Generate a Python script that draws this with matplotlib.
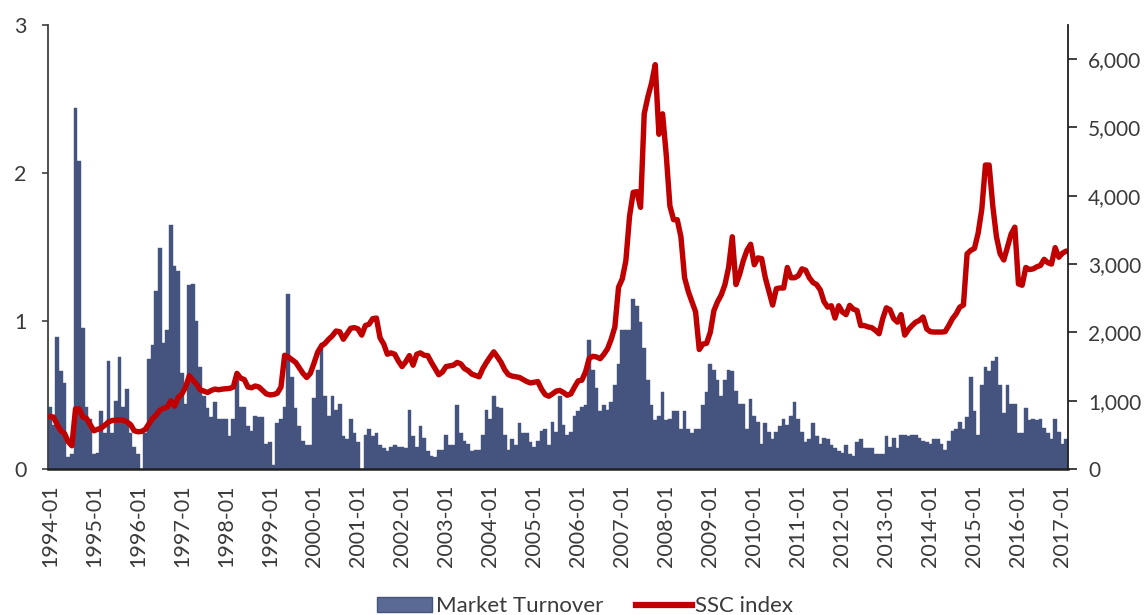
import numpy as np
import matplotlib.pyplot as plt
from matplotlib.patches import Patch
from matplotlib.lines import Line2D

# monthly data, 1994-01 .. 2017-02
years = list(range(1994, 2018))

turnover = [
    0.42, 0.30, 0.89, 0.66, 0.58, 0.08, 0.10, 2.44, 2.08, 0.95, 0.42, 0.34,  # 1994
    0.10, 0.11, 0.39, 0.24, 0.73, 0.24, 0.46, 0.76, 0.42, 0.54, 0.24, 0.15,  # 1995
    0.10, 0.00, 0.24, 0.74, 0.84, 1.20, 1.49, 0.85, 0.94, 1.65, 1.37, 1.34,  # 1996
    0.65, 0.44, 1.24, 1.25, 1.00, 0.69, 0.49, 0.41, 0.35, 0.45, 0.34, 0.34,  # 1997
    0.34, 0.22, 0.34, 0.60, 0.42, 0.42, 0.29, 0.26, 0.36, 0.35, 0.35, 0.17,  # 1998
    0.18, 0.03, 0.31, 0.34, 0.42, 1.18, 0.62, 0.41, 0.29, 0.19, 0.16, 0.16,  # 1999
    0.48, 0.67, 0.85, 0.49, 0.36, 0.49, 0.40, 0.44, 0.22, 0.20, 0.34, 0.24,  # 2000
    0.18, 0.00, 0.23, 0.27, 0.22, 0.24, 0.16, 0.14, 0.12, 0.15, 0.16, 0.15,  # 2001
    0.15, 0.14, 0.40, 0.22, 0.15, 0.29, 0.21, 0.12, 0.09, 0.08, 0.13, 0.13,  # 2002
    0.23, 0.16, 0.16, 0.43, 0.24, 0.19, 0.17, 0.12, 0.13, 0.13, 0.23, 0.40,  # 2003
    0.34, 0.49, 0.42, 0.41, 0.23, 0.13, 0.20, 0.16, 0.31, 0.24, 0.24, 0.18,  # 2004
    0.15, 0.19, 0.26, 0.27, 0.16, 0.32, 0.25, 0.49, 0.30, 0.23, 0.25, 0.36,  # 2005
    0.39, 0.42, 0.43, 0.87, 0.67, 0.55, 0.39, 0.43, 0.40, 0.45, 0.57, 0.71,  # 2006
    0.94, 0.94, 0.94, 1.15, 1.10, 0.99, 0.82, 0.60, 0.43, 0.33, 0.36, 0.52,  # 2007
    0.33, 0.34, 0.39, 0.39, 0.27, 0.39, 0.27, 0.24, 0.27, 0.27, 0.43, 0.52,  # 2008
    0.71, 0.67, 0.60, 0.49, 0.60, 0.67, 0.66, 0.53, 0.44, 0.44, 0.27, 0.47,  # 2009
    0.36, 0.32, 0.17, 0.31, 0.25, 0.20, 0.25, 0.29, 0.34, 0.30, 0.36, 0.45,  # 2010
    0.34, 0.25, 0.18, 0.20, 0.31, 0.22, 0.17, 0.21, 0.20, 0.16, 0.14, 0.12,  # 2011
    0.11, 0.16, 0.10, 0.09, 0.18, 0.20, 0.14, 0.14, 0.14, 0.10, 0.10, 0.10,  # 2012
    0.22, 0.15, 0.21, 0.14, 0.23, 0.23, 0.22, 0.23, 0.23, 0.21, 0.19, 0.18,  # 2013
    0.17, 0.20, 0.20, 0.17, 0.13, 0.19, 0.26, 0.27, 0.32, 0.27, 0.35, 0.62,  # 2014
    0.39, 0.23, 0.57, 0.69, 0.66, 0.73, 0.76, 0.57, 0.38, 0.57, 0.44, 0.44,  # 2015
    0.24, 0.24, 0.41, 0.33, 0.34, 0.33, 0.34, 0.28, 0.24, 0.20, 0.34, 0.25,  # 2016
    0.17, 0.20,                                                              # 2017
]

ssc_index = [
    770, 760, 650, 560, 520, 400, 340, 880, 880, 760, 740, 650,          # 1994
    560, 580, 600, 640, 690, 710, 715, 720, 715, 690, 650, 560,          # 1995
    545, 550, 580, 660, 740, 790, 860, 890, 905, 1000, 920, 1050,        # 1996
    1100, 1200, 1365, 1300, 1240, 1160, 1140, 1120, 1150, 1170, 1160, 1170,  # 1997
    1175, 1180, 1200, 1400, 1330, 1310, 1200, 1190, 1215, 1200, 1150, 1100,  # 1998
    1085, 1090, 1110, 1200, 1665, 1640, 1600, 1560, 1480, 1400, 1340, 1400,  # 1999
    1550, 1710, 1800, 1840, 1900, 1950, 2020, 2010, 1900, 1980, 2060, 2070,  # 2000
    2050, 1960, 2100, 2120, 2200, 2210, 1920, 1830, 1680, 1700, 1680, 1580,  # 2001
    1500, 1570, 1660, 1520, 1680, 1700, 1665, 1660, 1560, 1470, 1380, 1420,  # 2002
    1500, 1510, 1520, 1560, 1540, 1470, 1440, 1390, 1370, 1350, 1470, 1560,  # 2003
    1640, 1715, 1640, 1560, 1450, 1380, 1360, 1350, 1340, 1310, 1280, 1260,  # 2004
    1270, 1280, 1170, 1090, 1065, 1100, 1140, 1150, 1120, 1080, 1100, 1200,  # 2005
    1290, 1300, 1420, 1620, 1650, 1640, 1615, 1680, 1760, 1900, 2080, 2660,  # 2006
    2780, 3050, 3700, 4050, 4060, 3830, 5200, 5450, 5650, 5920, 4900, 5200,  # 2007
    4600, 3850, 3650, 3650, 3400, 2800, 2600, 2450, 2300, 1750, 1830, 1840,  # 2008
    2000, 2320, 2450, 2550, 2700, 2950, 3400, 2700, 2850, 3050, 3200, 3290,  # 2009
    2990, 3090, 3080, 2800, 2600, 2400, 2640, 2650, 2650, 2950, 2800, 2800,  # 2010
    2830, 2930, 2910, 2800, 2730, 2700, 2620, 2450, 2370, 2390, 2210, 2390,  # 2011
    2300, 2260, 2395, 2340, 2320, 2100, 2100, 2080, 2070, 2030, 1980, 2200,  # 2012
    2360, 2330, 2200, 2150, 2260, 1960, 2040, 2100, 2150, 2175, 2225, 2050,  # 2013
    2010, 2005, 2005, 2005, 2010, 2100, 2200, 2270, 2370, 2400, 3150, 3200,  # 2014
    3230, 3450, 3800, 4450, 4450, 3850, 3400, 3150, 3060, 3250, 3440, 3540,  # 2015
    2710, 2690, 2950, 2920, 2930, 2960, 2980, 3070, 3020, 3000, 3240, 3100,  # 2016
    3160, 3190,                                                          # 2017
]

bar_color = '#44547f'
line_color = '#c00000'
text_color = '#3a3a3a'

plt.rcParams['font.family'] = ['Lato', 'DejaVu Sans']
plt.rcParams['font.size'] = 15

x = np.arange(len(turnover))

fig = plt.figure(figsize=(11.47, 6.15), dpi=100)
ax = fig.add_axes([48 / 1147, 1 - 469 / 615, 1020 / 1147, 444 / 615])

ax.bar(x, turnover, width=1.0, color=bar_color, edgecolor=bar_color, linewidth=0.3)
ax.set_xlim(-0.5, len(x) - 0.5)
ax.set_ylim(0, 3)
ax.set_yticks([0, 1, 2, 3])

ax2 = ax.twinx()
ax2.plot(x, ssc_index, color=line_color, lw=3.9, solid_joinstyle='round', solid_capstyle='round')
ax2.set_ylim(0, 6500)
ax2.set_yticks(range(0, 7000, 1000))
ax2.set_yticklabels([f'{v:,}' for v in range(0, 7000, 1000)])

tick_pos = [12 * (y - 1994) for y in years]
ax.set_xticks(tick_pos)
ax.set_xticklabels([f'{y}-01' for y in years], rotation=90)

for s in ['top', 'right']:
    ax.spines[s].set_visible(False)
for s in ['top', 'left', 'bottom']:
    ax2.spines[s].set_visible(False)
ax.spines['left'].set_color('#404040')
ax.spines['left'].set_linewidth(1.3)
ax.spines['bottom'].set_color('#202020')
ax.spines['bottom'].set_linewidth(1.8)
ax2.spines['right'].set_color('#202020')
ax2.spines['right'].set_linewidth(1.3)

ax.tick_params(axis='x', length=0, pad=11, colors=text_color, labelsize=15.5)
ax.tick_params(axis='y', length=4.5, width=1.2, pad=11, colors=text_color, labelsize=15.5)
ax.tick_params(axis='y', color='#404040')
ax2.tick_params(axis='y', length=6.5, width=1.2, pad=8, colors=text_color, labelsize=15)
ax2.tick_params(axis='y', color='#202020')

handles = [Patch(facecolor='#5a6a94', edgecolor='#44547f'),
           Line2D([0], [0], color=line_color, lw=4.5)]
fig.legend(handles, ['Market Turnover', 'SSC index'], loc='center',
           bbox_to_anchor=(0.51, 0.014), ncol=2, frameon=False,
           handlelength=2.5, handleheight=0.63, handletextpad=0.15,
           columnspacing=1.5, fontsize=16, labelcolor=text_color)

fig.savefig('out.png', dpi=100)
